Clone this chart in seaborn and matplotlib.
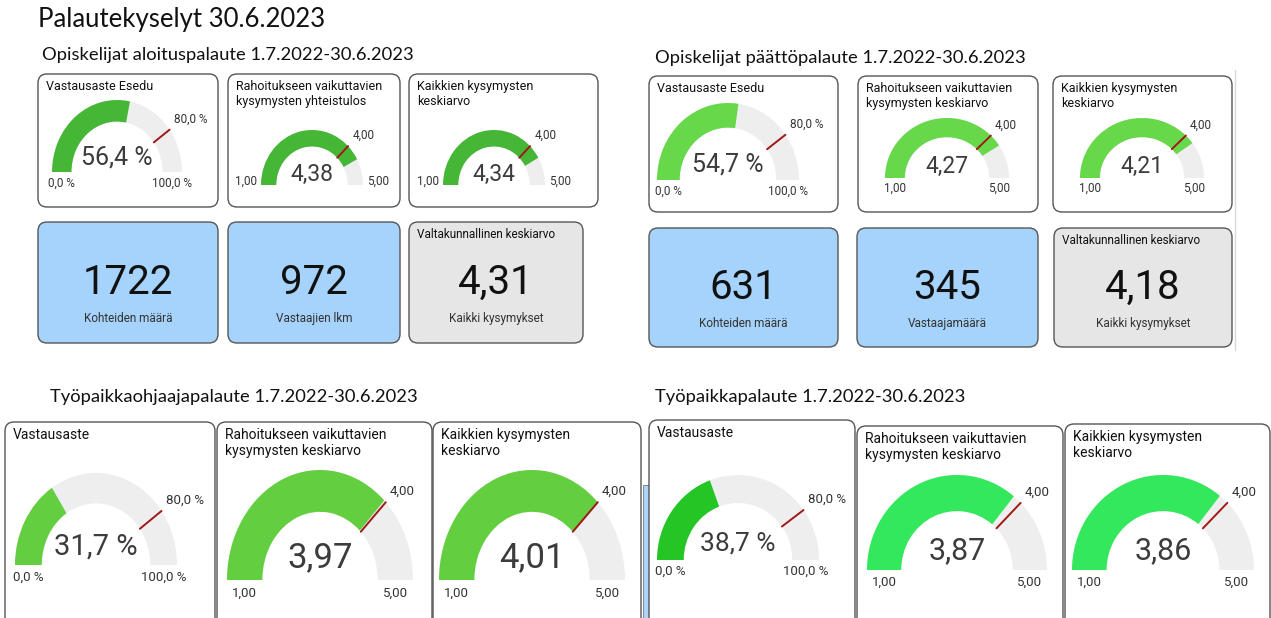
import matplotlib
matplotlib.use("Agg")
import matplotlib.pyplot as plt
from matplotlib.patches import FancyBboxPatch, Wedge, Rectangle
import numpy as np
import seaborn as sns

# ---- data ----
page_title = "Palautekyselyt 30.6.2023"
section_titles = ["Opiskelijat aloituspalaute 1.7.2022-30.6.2023",
                  "Opiskelijat päättöpalaute 1.7.2022-30.6.2023",
                  "Työpaikkaohjaajapalaute 1.7.2022-30.6.2023",
                  "Työpaikkapalaute 1.7.2022-30.6.2023"]

gauge_min = [0, 1, 1]
gauge_max = [100, 5, 5]
gauge_target = [80, 4, 4]

tl_titles = ["Vastausaste Esedu", "Rahoitukseen vaikuttavien\nkysymysten yhteistulos",
             "Kaikkien kysymysten\nkeskiarvo"]
tl_values = [56.4, 4.38, 4.34]
tr_titles = ["Vastausaste Esedu", "Rahoitukseen vaikuttavien\nkysymysten keskiarvo",
             "Kaikkien kysymysten\nkeskiarvo"]
tr_values = [54.7, 4.27, 4.21]
bl_titles = ["Vastausaste", "Rahoitukseen vaikuttavien\nkysymysten keskiarvo",
             "Kaikkien kysymysten\nkeskiarvo"]
bl_values = [31.7, 3.97, 4.01]
br_titles = bl_titles
br_values = [38.7, 3.87, 3.86]

tl_counts = [1722, 972]
tl_count_labels = ["Kohteiden määrä", "Vastaajien lkm"]
tl_national = 4.31
tr_counts = [631, 345]
tr_count_labels = ["Kohteiden määrä", "Vastaajamäärä"]
tr_national = 4.18
national_title = "Valtakunnallinen keskiarvo"
national_label = "Kaikki kysymykset"

# ---- style ----
sns.set_theme(style="white")
plt.rcParams["font.family"] = ["Roboto", "DejaVu Sans"]
HEAD = ["Lato", "Open Sans", "DejaVu Sans"]
W, H = 1271, 618
EDGE = "#555555"
TRACK = "#eeeeee"
MARK = "#a01818"
BLUE = "#a6d3fb"
GREY = "#e6e6e6"
TXT = "#333333"

fig = plt.figure(figsize=(W / 100, H / 100), dpi=100)
bg = fig.add_axes([0, 0, 1, 1])
bg.set_xlim(0, W)
bg.set_ylim(H, 0)
bg.axis("off")


def fmt(v, pct):
    s = f"{v:.1f} %" if pct else f"{v:.2f}"
    return s.replace(".", ",")


def card(x0, y0, x1, y1, fc="white", title=None, tsize=9):
    bg.add_patch(FancyBboxPatch((x0, y0), x1 - x0, y1 - y0,
                                boxstyle="round,pad=0,rounding_size=9",
                                fc=fc, ec=EDGE, lw=1.0))
    if title:
        bg.text(x0 + 8, y0 + 6, title, ha="left", va="top", fontsize=tsize,
                color="#111111", linespacing=1.2)


def gauge(cx, base, rx, ry, value, i, color, width, vsize, lsize, side=False):
    ax = fig.add_axes([(cx - rx) / W, 1 - base / H, 2 * rx / W, ry / H])
    ax.set_xlim(-1, 1)
    ax.set_ylim(0, 1)
    ax.axis("off")
    lo, hi, tg = gauge_min[i], gauge_max[i], gauge_target[i]
    pct = i == 0
    ang = lambda v: 180 - 180 * (min(v, hi) - lo) / (hi - lo)
    ax.add_patch(Wedge((0, 0), 1, 0, 180, width=width, fc=TRACK, ec="none", clip_on=False))
    ax.add_patch(Wedge((0, 0), 1, ang(value), 180, width=width, fc=color, ec="none", clip_on=False))
    a = np.deg2rad(ang(tg))
    r = np.array([1 - width, 1])
    ax.plot(r * np.cos(a), r * np.sin(a), color=MARK, lw=1.4, clip_on=False)
    ax.annotate(fmt(tg, pct), (np.cos(a), np.sin(a)), xytext=(3, 3),
                textcoords="offset points", ha="left", va="bottom",
                fontsize=lsize, color=TXT)
    ax.text(0, 0.2, fmt(value, pct), ha="center", va="center", fontsize=vsize,
            color="#3c3c3c")
    if side:
        ax.text(-1.08, 0.06, fmt(lo, pct), ha="right", va="center", fontsize=lsize, color=TXT)
        ax.text(1.08, 0.06, fmt(hi, pct), ha="left", va="center", fontsize=lsize, color=TXT)
    else:
        ax.text(-1 + width / 2, -0.06, fmt(lo, pct), ha="center", va="top", fontsize=lsize, color=TXT)
        ax.text(1 - width / 2, -0.06, fmt(hi, pct), ha="center", va="top", fontsize=lsize, color=TXT)


def kpi(x0, y0, x1, y1, num, label, fc, title=None):
    card(x0, y0, x1, y1, fc=fc, title=title, tsize=8.5)
    cx = (x0 + x1) / 2
    bg.text(cx, y0 + 0.5 * (y1 - y0), num, ha="center", va="center", fontsize=29,
            color="#111111")
    bg.text(cx, y1 - 0.2 * (y1 - y0), label, ha="center", va="center", fontsize=8.5,
            color=TXT)


# ---- headings ----
bg.text(38, 19, page_title, ha="left", va="center", fontsize=18.5, family=HEAD, color="#111111")
for (x, y), t in zip([(42, 55), (655, 58), (50, 397), (655, 397)], section_titles):
    bg.text(x, y, t, ha="left", va="center", fontsize=13.2, family=HEAD, color="#111111")

# ---- top left ----
tl_boxes = [(38, 74, 218, 207), (228, 74, 400, 207), (409, 74, 598, 207)]
tl_geo = [(117, 172, 65, 72), (312, 185, 51, 55), (494, 185, 51, 55)]
for k in range(3):
    card(*tl_boxes[k], title=tl_titles[k])
    gauge(*tl_geo[k], tl_values[k], k, "#46b637", 0.3, 18 if k == 0 else 16.5, 8.5, side=k > 0)
for k, (x0, x1) in enumerate([(38, 218), (228, 400)]):
    kpi(x0, 222, x1, 343, str(tl_counts[k]), tl_count_labels[k], BLUE)
kpi(409, 222, 583, 343, fmt(tl_national, False), national_label, GREY, title=national_title)

# ---- top right ----
tr_boxes = [(649, 76, 838, 212), (858, 76, 1038, 212), (1053, 76, 1232, 212)]
tr_geo = [(728, 180, 71, 77), (947, 178, 62, 60), (1142, 178, 62, 60)]
for k in range(3):
    card(*tr_boxes[k], title=tr_titles[k])
    gauge(*tr_geo[k], tr_values[k], k, "#66d84a", 0.32, 18 if k == 0 else 16.5, 8.5)
for k, (x0, x1) in enumerate([(649, 838), (857, 1038)]):
    kpi(x0, 228, x1, 347, str(tr_counts[k]), tr_count_labels[k], BLUE)
kpi(1054, 228, 1232, 347, fmt(tr_national, False), national_label, GREY, title=national_title)
bg.plot([1235, 1235], [70, 350], color="#d8d8d8", lw=1)

# ---- bottom left ----
bl_boxes = [(5, 422, 215, 640), (217, 422, 432, 640), (433, 422, 641, 640)]
bl_geo = [(96, 565, 81, 92), (320, 580, 93, 110), (532, 580, 93, 110)]
for k in range(3):
    card(*bl_boxes[k], title=bl_titles[k], tsize=10)
    gauge(*bl_geo[k], bl_values[k], k, "#63cf40", 0.33 if k == 0 else 0.38,
          21 if k == 0 else 25, 9.5)
bg.add_patch(Rectangle((643, 485), 6, 140, fc="#a9d5fb", ec="#777777", lw=0.6))

# ---- bottom right ----
br_boxes = [(649, 420, 855, 640), (857, 426, 1063, 640), (1065, 424, 1270, 640)]
br_geo = [(738, 560, 81, 85), (957, 570, 90, 95), (1163, 570, 91, 95)]
br_colors = ["#24c626", "#33e85c", "#33e85c"]
for k in range(3):
    card(*br_boxes[k], title=br_titles[k], tsize=10)
    gauge(*br_geo[k], br_values[k], k, br_colors[k], 0.33 if k == 0 else 0.38,
          19 if k == 0 else 22, 9.5)

fig.savefig("out.png", dpi=100)
